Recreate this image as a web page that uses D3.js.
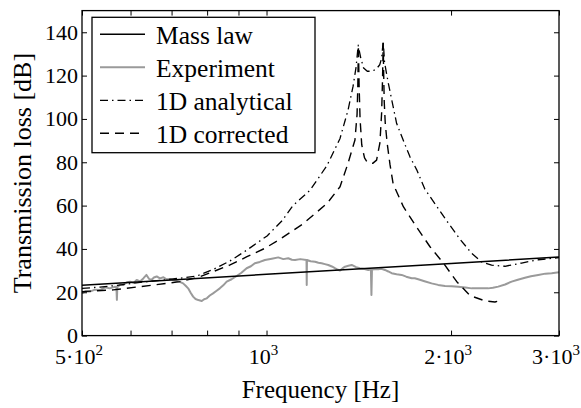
<!DOCTYPE html>
<html><head><meta charset="utf-8">
<script src="https://cdn.jsdelivr.net/npm/d3@7"></script>
<style>html,body{margin:0;padding:0;background:#fff;} svg{display:block;}</style>
</head><body>
<svg id="chart" width="581" height="408"></svg>
<script>
// ---------- data ----------
const massFreq = [500, 1000, 2000, 3000];
const massTL   = [23.2, 28.3, 33.3, 36.3];

const expFreq = [500,507,515,525,535,545,555,565,569,570,571,578,584,592,599,607,614,622,630,637,643,649,655,662,670,679,687,696,704,713,722,731,738,745,752,759,766,774,784,791,799,808,818,828,839,850,861,877,894,910,928,943,957,975,994,1020,1045,1065,1085,1100,1113,1135,1162,1163,1164,1180,1200,1215,1230,1245,1261,1278,1293,1305,1318,1330,1343,1360,1377,1400,1420,1445,1465,1480,1483,1486,1500,1521,1540,1560,1580,1600,1630,1661,1690,1725,1745,1768,1810,1859,1905,1955,2005,2055,2110,2161,2230,2300,2340,2388,2450,2511,2570,2640,2700,2775,2850,2918,3000];
const expTL   = [19.5,20.5,20.3,21.2,21.0,22.3,21.8,22.5,22.4,16.5,22.5,23.6,23.4,24.6,24.9,24.3,25.7,25.0,26.5,28.0,26.2,25.7,26.8,27.3,26.4,26.9,26.0,26.1,25.6,25.2,24.8,24.1,23.0,21.8,19.8,18.0,16.9,16.4,16.0,16.8,17.2,18.5,19.5,20.6,21.8,23.2,24.9,26.0,27.5,29.0,31.1,32.0,33.4,34.0,34.9,35.5,36.1,35.3,35.7,35.0,34.9,35.3,34.9,23.4,34.9,34.3,34.1,33.6,33.4,33.0,32.6,31.9,31.1,30.5,30.0,31.0,31.8,32.2,32.6,31.6,31.1,30.7,30.3,30.5,18.7,30.5,30.6,30.6,30.8,30.3,29.6,28.8,28.3,28.0,27.2,26.5,26.5,26.0,25.1,24.1,23.4,22.9,22.8,22.6,22.2,21.8,21.9,21.8,22.1,22.6,23.6,24.9,25.8,26.7,27.4,28.0,28.6,28.8,29.2];

const anaFreq = [500,535,562,600,638,683,722,770,818,872,929,1002,1060,1104,1177,1255,1318,1358,1384,1400,1411,1425,1440,1460,1485,1510,1530,1541,1550,1558,1580,1600,1630,1672,1714,1758,1813,1871,1967,2068,2161,2243,2329,2449,2607,2775,3000];
const anaTL   = [21.8,22.4,23.0,24.0,24.9,25.7,26.5,27.5,30.5,34.5,39.5,46,53,60,67,78.5,91,104,115,124,134,128,123.5,122,122,123,125,128,136,126,116.5,109,98,90,82.5,76.5,67.5,62,53,44.5,38,34,32.5,32,33.5,35,36];

const corFreq = [500,562,622,688,722,770,818,872,929,994,1052,1146,1255,1318,1358,1394,1405,1409,1412,1416,1421,1430,1445,1460,1490,1512,1531,1541,1546,1550,1553,1556,1562,1573,1590,1609,1672,1758,1848,1943,2042,2147,2272,2358,2419];
const corTL   = [20.3,21.1,22.6,24.1,24.9,26.7,29.5,32.6,36.4,40.3,44.5,51.5,61,68.7,79.5,90.3,102,115,134,115,100,88,82,80,79.5,81,89,103,118,135,120,108,98,89,79,70,59.5,50,41,33.5,25,18.5,16,15.5,16.5];

const xTickValues = [500,600,700,800,900,1000,2000,3000];
const xLabelValues = [500,1000,2000,3000];
const xLabelBase = ["5·10","10","2·10","3·10"];
const xLabelExp  = ["2","3","3","3"];
const yTickValues = [0,20,40,60,80,100,120,140];

const legendNames = ["Mass law","Experiment","1D analytical","1D corrected"];

// ---------- drawing ----------
const FONT = "Liberation Serif, LiberationSerif, Times New Roman, Times, DejaVu Serif, serif";
const svg = d3.select("#chart");
const L = 82, R = 559, T = 10.6, B = 335.6;
const x = d3.scaleLog().domain([500,3000]).range([L,R]);
const y = d3.scaleLinear().domain([0,150]).range([B,T]);

svg.append("rect").attr("width",581).attr("height",408).attr("fill","#fff");

svg.append("defs").append("clipPath").attr("id","clip")
  .append("rect").attr("x",L).attr("y",T).attr("width",R-L).attr("height",B-T);

const series = [
  {f:massFreq, v:massTL, color:"#000", w:1.5, dash:null},
  {f:expFreq,  v:expTL,  color:"#9a9a9a", w:2, dash:null},
  {f:anaFreq,  v:anaTL,  color:"#000", w:1.3, dash:"8,4,1.5,4"},
  {f:corFreq,  v:corTL,  color:"#000", w:1.4, dash:"9,6"}
];
const line = d3.line().x(d=>x(d[0])).y(d=>y(d[1]));
const g = svg.append("g").attr("clip-path","url(#clip)");
[1,0,2,3].forEach(i=>{
  const s = series[i];
  g.append("path").datum(s.f.map((f,k)=>[f,s.v[k]]))
    .attr("d",line).attr("fill","none").attr("stroke",s.color)
    .attr("stroke-width",s.w).attr("stroke-linejoin","round")
    .attr("stroke-dasharray",s.dash);
});

function styleAxis(sel){ sel.select(".domain").remove(); sel.selectAll("line").attr("stroke","#000").attr("stroke-width",1); }
svg.append("g").attr("transform",`translate(0,${B})`)
  .call(d3.axisBottom(x).tickValues(xTickValues).tickSize(-5).tickFormat("")).call(styleAxis);
svg.append("g").attr("transform",`translate(0,${T})`)
  .call(d3.axisTop(x).tickValues(xTickValues).tickSize(-5).tickFormat("")).call(styleAxis);
svg.append("g").attr("transform",`translate(${L},0)`)
  .call(d3.axisLeft(y).tickValues(yTickValues).tickSize(-5).tickFormat("")).call(styleAxis);
svg.append("g").attr("transform",`translate(${R},0)`)
  .call(d3.axisRight(y).tickValues(yTickValues).tickSize(-5).tickFormat("")).call(styleAxis);

svg.append("rect").attr("x",L).attr("y",T).attr("width",R-L).attr("height",B-T)
  .attr("fill","none").attr("stroke","#000").attr("stroke-width",1.3);

svg.selectAll("text").remove();
const txt = (sel)=>sel.style("font-family",FONT).attr("fill","#000");

svg.append("g").selectAll("text").data(yTickValues).join("text")
  .attr("x",L-4).attr("y",d=>y(d)).attr("dy","0.34em")
  .attr("text-anchor","end").style("font-size","22px").call(txt).text(d=>d);

xLabelValues.forEach((v,i)=>{
  const t = svg.append("text").attr("x",x(v)-3).attr("y",364)
    .attr("text-anchor","middle").style("font-size","22px").call(txt);
  t.append("tspan").text(xLabelBase[i]);
  t.append("tspan").attr("dy",-9).style("font-size","15px").text(xLabelExp[i]);
});

svg.append("text").attr("x",(L+R)/2).attr("y",398).attr("text-anchor","middle")
  .style("font-size","25px").call(txt).text("Frequency [Hz]");
svg.append("text").attr("transform",`translate(31,${(T+B)/2}) rotate(-90)`)
  .attr("text-anchor","middle").style("font-size","26px").call(txt).text("Transmission loss [dB]");

const lg = svg.append("g");
lg.append("rect").attr("x",92).attr("y",17.3).attr("width",223).attr("height",135.4)
  .attr("fill","#fff").attr("stroke","#000").attr("stroke-width",1.3);
const ly = [34.3, 67.3, 100.3, 133.3];
legendNames.forEach((n,i)=>{
  const s = series[i];
  lg.append("line").attr("x1",100).attr("x2",145).attr("y1",ly[i]).attr("y2",ly[i])
    .attr("stroke",s.color).attr("stroke-width",s.w).attr("stroke-dasharray",s.dash);
  lg.append("text").attr("x",156).attr("y",ly[i]+9.5)
    .style("font-size","25.5px").call(txt).text(n);
});
</script>
</body></html>
